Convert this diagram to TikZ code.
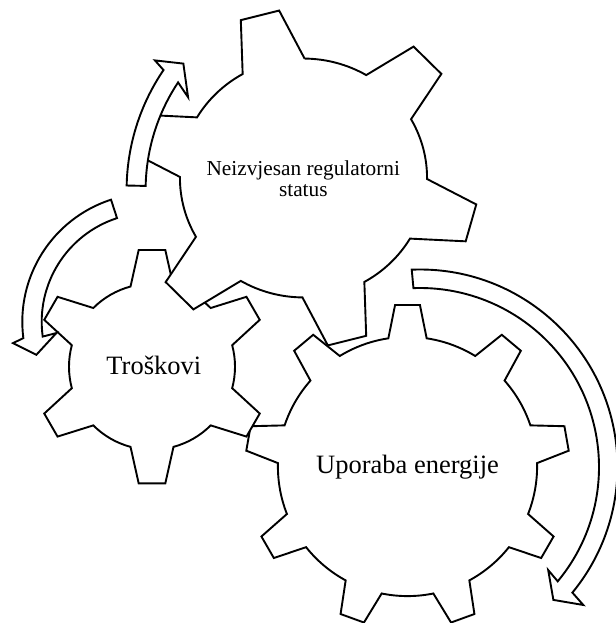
\documentclass[tikz,border=0pt]{standalone}
\usepackage{fontspec}
\setmainfont{Liberation Serif}
\newcommand{\drawgear}[7]{%
  \begin{scope}[#1]
    \filldraw[gearline] ({#3-#7}:#5)
      \foreach \k in {1,...,#2} {
        -- ({#3+(360/#2)*(\k-1)-#6}:#4)
        -- ({#3+(360/#2)*(\k-1)+#6}:#4)
        -- ({#3+(360/#2)*(\k-1)+#7}:#5)
        arc[start angle={#3+(360/#2)*(\k-1)+#7}, end angle={#3+(360/#2)*\k-#7}, radius=#5]
      } -- cycle;
  \end{scope}}
\begin{document}
\begin{tikzpicture}[x=1pt,y=1pt,
  gearline/.style={draw=black, fill=white, line width=1.9pt, line join=miter},
  arrowshape/.style={draw=black, fill=white, line width=1.9pt, line join=miter},
  bigtext/.style={font=\fontsize{26.5}{28}\selectfont, inner sep=0pt},
  smalltext/.style={font=\fontsize{21.3}{21.7}\selectfont, align=center, inner sep=0pt}]
\useasboundingbox (0,0) rectangle (615,623);
\fill[white] (0,0) rectangle (615,623);
% gear centres
\coordinate (genergy) at (407.5,156.5);
\coordinate (gcost) at (152,256.3);
\coordinate (greg) at (303.5,445);
% gears (bottom-right, left, top)
\drawgear{shift={(genergy)}}{9}{90}{162}{129.6}{4.4}{8.5}
\drawgear{shift={(gcost)}}{6}{90}{117.5}{83}{6.5}{15}
\drawgear{shift={(greg)},xscale=1.017,yscale=0.983}{6}{104.5}{172}{121.5}{6.5}{15}
% circular arrows
\coordinate (aone) at (340,433);
\coordinate (atwo) at (150.7,301.2);
\coordinate (athree) at (420,156);
\begin{scope}[shift={(aone)}]
  \filldraw[arrowshape] (178.8:213.4) arc[start angle=178.8, end angle=145.8, radius=213.4]
    -- (145:225.9) -- (141.1:201.3) -- (148.6:178) -- (146.4:194.4)
    arc[start angle=146.4, end angle=178.8, radius=194.4] -- cycle;
\end{scope}
\begin{scope}[shift={(atwo)}]
  \filldraw[arrowshape] (108:128.4) arc[start angle=108, end angle=187.3, radius=128.4]
    -- (188.8:139.3) -- (196.1:119) -- (186.8:95) -- (187.8:109)
    arc[start angle=187.8, end angle=108, radius=109] -- cycle;
\end{scope}
\begin{scope}[shift={(athree)}]
  \filldraw[arrowshape] (92.4:197.5) arc[start angle=92.4, end angle=-39.5, radius=197.5]
    -- (-40.2:213.8) -- (-44.9:188.3) -- (-38.8:164.5) -- (-39.7:179)
    arc[start angle=-39.7, end angle=92.1, radius=179] -- cycle;
\end{scope}
% labels
\node[smalltext] (treg) at (303.3,444.4) {Neizvjesan regulatorni\\status};
\node[bigtext, anchor=base] (tcost) at (153.8,248) {Troškovi};
\node[bigtext, anchor=base] (tenergy) at (407.5,149.7) {Uporaba energije};
\end{tikzpicture}
\end{document}
